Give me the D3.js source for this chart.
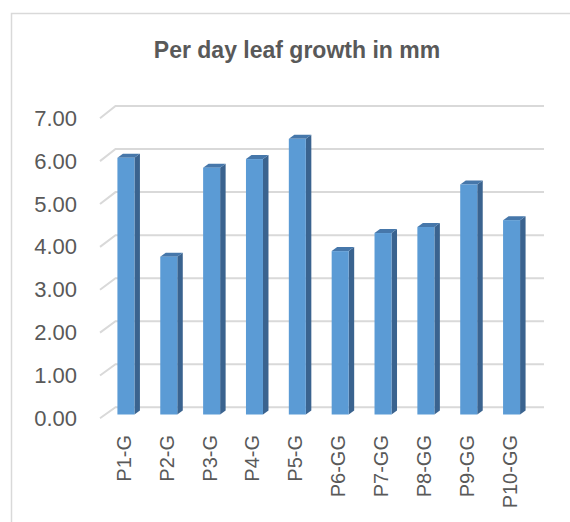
<!DOCTYPE html>
<html><head><meta charset="utf-8">
<script src="https://cdn.jsdelivr.net/npm/d3@7"></script>
<style>html,body{margin:0;padding:0;background:#fff;}svg{display:block;}</style>
</head><body>
<script>
const categories = ["P1-G","P2-G","P3-G","P4-G","P5-G","P6-GG","P7-GG","P8-GG","P9-GG","P10-GG"];
const values = [5.97, 3.67, 5.74, 5.94, 6.41, 3.80, 4.22, 4.36, 5.35, 4.52];
const tickValues = [0,1,2,3,4,5,6,7];
const title = "Per day leaf growth in mm";

const W = 570, H = 522;
const svg = d3.select("body").append("svg").attr("width", W).attr("height", H);

// chart border
svg.append("rect").attr("x", 11.5).attr("y", 13.5).attr("width", 600).attr("height", 600)
  .attr("fill", "none").attr("stroke", "#d9d9d9").attr("stroke-width", 1.5);

// title
svg.append("text").attr("x", 297).attr("y", 58).attr("text-anchor", "middle")
  .attr("font-family", "Liberation Sans, Arial, sans-serif").attr("font-weight", "bold")
  .attr("font-size", 23).attr("fill", "#595959").text(title);

// scales
const wallDx = 15.5;
const yFrontWall = d3.scaleLinear().domain([0, 7]).range([418.3, 118.3]);
const yBack = d3.scaleLinear().domain([0, 7]).range([407.3, 106]);
const yBar = d3.scaleLinear().domain([0, 7]).range([414.5, 414.5 - 7 * 43]);
const x = d3.scaleBand().domain(categories).range([104.5, 533])
  .paddingInner(0.603).paddingOuter(0.3015);
const backRight = 544;

// gridlines (left wall diagonal + back wall horizontal)
const grid = svg.append("g").attr("stroke", "#d9d9d9").attr("stroke-width", 2).attr("fill", "none");
tickValues.forEach(v => {
  grid.append("path").attr("d",
    `M100,${yFrontWall(v)}L${100 + wallDx},${yBack(v)}L${backRight},${yBack(v)}`);
});

// y axis labels
const yAxis = d3.axisLeft(yFrontWall).tickValues(tickValues).tickSize(0).tickPadding(0)
  .tickFormat(d3.format(".2f"));
const ga = svg.append("g").attr("transform", "translate(77,0)").call(yAxis);
ga.select(".domain").remove();
ga.selectAll("text").attr("font-family", "Liberation Sans, Arial, sans-serif")
  .attr("font-size", 22).attr("fill", "#595959");

// bars
const bw = x.bandwidth(), dx = 5.5, dy = 4;
const base = yBar(0);
const bars = svg.append("g");
categories.forEach((c, i) => {
  const x0 = x(c), y0 = yBar(values[i]);
  bars.append("path").attr("fill", "#3a638f").attr("d",
    `M${x0 + bw},${y0}L${x0 + bw + dx},${y0 - dy}L${x0 + bw + dx},${base - dy}L${x0 + bw},${base}Z`);
  bars.append("path").attr("fill", "#4677aa").attr("d",
    `M${x0},${y0}L${x0 + dx},${y0 - dy}L${x0 + bw + dx},${y0 - dy}L${x0 + bw},${y0}Z`);
  bars.append("rect").attr("x", x0).attr("y", y0).attr("width", bw).attr("height", base - y0)
    .attr("fill", "#5b9bd5");
});

// category labels
const gx = svg.append("g");
categories.forEach(c => {
  const cx = x(c) + bw / 2 - 2;
  gx.append("text").attr("transform", `translate(${cx + 7},435) rotate(-90)`)
    .attr("text-anchor", "end")
    .attr("font-family", "Liberation Sans, Arial, sans-serif").attr("font-size", 20)
    .attr("fill", "#595959").text(c);
});
</script>
</body></html>
